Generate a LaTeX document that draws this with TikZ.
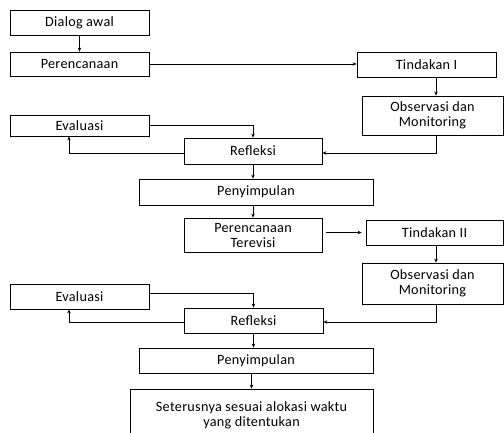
\documentclass[tikz,border=0pt]{standalone}
\usepackage{fontspec}
\setmainfont{Carlito}[LetterSpace=2]
\usetikzlibrary{arrows.meta,calc}
\begin{document}
\begin{tikzpicture}[x=1pt,y=-1pt,
  box/.style={draw, line width=0.8pt, inner sep=0pt, align=center,
    font=\fontsize{14.2}{15}\selectfont},
  arr/.style={draw, line width=0.8pt, -{Stealth[length=4pt,width=3.5pt]}},
  ln/.style={draw, line width=0.8pt}]
\useasboundingbox (0,0) rectangle (504,432);
\clip (0,0) rectangle (504,432);
\coordinate (colR) at (436,0);
\coordinate (colL) at (69,0);
% nodes
\node[box, minimum width=139pt, minimum height=25pt] (da) at (79.5,22.5) {Dialog awal};
\node[box, minimum width=139pt, minimum height=24pt] (p1) at (79.5,64) {Perencanaan};
\node[box, minimum width=139pt, minimum height=25pt] (t1) at (426.5,64.5) {Tindakan I};
\node[box, minimum width=141pt, minimum height=39pt] (o1) at (432.5,115.5) {Observasi dan\\Monitoring};
\node[box, minimum width=139pt, minimum height=21pt] (e1) at (79.5,125.5) {Evaluasi};
\node[box, minimum width=138pt, minimum height=26pt] (r1) at (253,151) {Refleksi};
\node[box, minimum width=234pt, minimum height=26pt] (s1) at (256,192) {Penyimpulan};
\node[box, minimum width=138pt, minimum height=34pt] (pt) at (253,235) {Perencanaan\\Terevisi};
\node[box, minimum width=137pt, minimum height=25pt] (t2) at (434.5,232.5) {Tindakan II};
\node[box, minimum width=141pt, minimum height=41pt] (o2) at (432.5,283.5) {Observasi dan\\Monitoring};
\node[box, minimum width=139pt, minimum height=25pt] (e2) at (79.5,296.5) {Evaluasi};
\node[box, minimum width=139pt, minimum height=25pt] (r2) at (253.5,320.5) {Refleksi};
\node[box, minimum width=234pt, minimum height=25pt] (s2) at (256,360.5) {Penyimpulan};
\node[box, minimum width=243pt, minimum height=51pt, text depth=0pt] (st) at (251.5,414.5) {Seterusnya sesuai alokasi waktu\\yang ditentukan};
% connectors
\draw[arr] (da.south) -- (p1.north);
\draw[arr] (p1.east) -- (p1.east -| t1.west);
\draw[arr] (t1.south -| colR) -- (o1.north -| colR);
\draw[arr] (e1.east) -| (r1.north);
\draw[arr] ([yshift=-2pt]r1.west) -| (e1.south -| colL);
\draw[arr] (o1.south -| colR) |- ([yshift=-2pt]r1.east);
\draw[arr] (r1.south) -- (s1.north -| r1.south);
\draw[arr] (s1.south -| pt.north) -- (pt.north);
\draw[arr, shorten <=4pt, shorten >=4pt] (pt.east |- t2.west) -- (t2.west);
\draw[arr] (t2.south -| colR) -- (o2.north -| colR);
\draw[arr] ([yshift=3.5pt]e2.east) -| (r2.north);
\draw[arr] ([yshift=-1.5pt]r2.west) -| (e2.south -| colL);
\draw[arr] (o2.south -| colR) |- ([yshift=-1.5pt]r2.east);
\draw[arr] (r2.south) -- (s2.north -| r2.south);
\draw[arr] (s2.south -| st.north) -- (st.north);
\end{tikzpicture}
\end{document}
